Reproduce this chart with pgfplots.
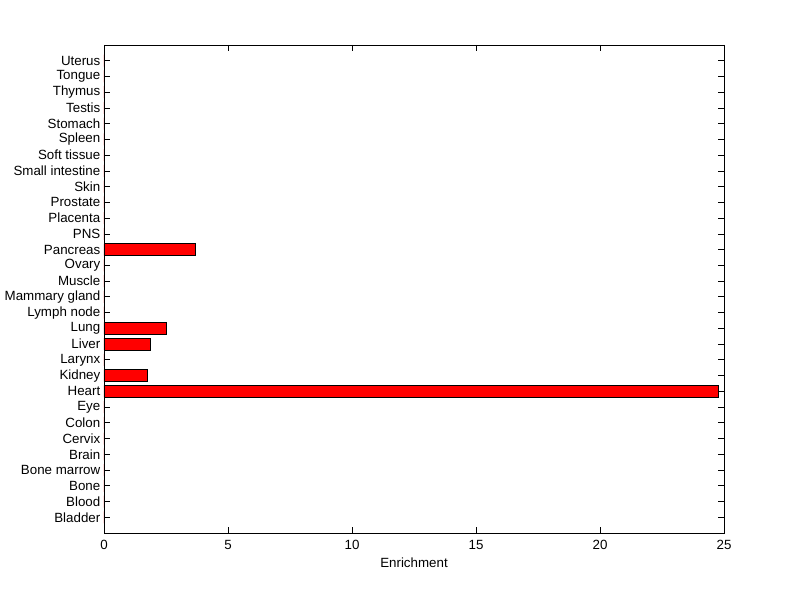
\documentclass[border=0pt]{standalone}
\usepackage{pgfplots}
\pgfplotsset{compat=1.18}
\usepackage{fontspec}
\setmainfont{Liberation Sans}
\begin{document}
\fontsize{10}{12}\selectfont
\begin{tikzpicture}
\begin{axis}[
  scale only axis,
  width=465pt, height=366pt,
  xmin=0, xmax=25, ymin=0, ymax=31,
  xtick={0,5,10,15,20,25},
  ytick={1,...,30},
  yticklabels={Bladder,Blood,Bone,Bone marrow,Brain,Cervix,Colon,Eye,Heart,Kidney,Larynx,Liver,Lung,Lymph node,Mammary gland,Muscle,Ovary,Pancreas,PNS,Placenta,Prostate,Skin,Small intestine,Soft tissue,Spleen,Stomach,Testis,Thymus,Tongue,Uterus},
  xbar, bar width=9pt,
  xtick pos=both, ytick pos=both,
  tick align=inside,
  xtick align=inside, ytick align=inside,
  major tick length=4.5pt,
  tick style={black, line width=0.6pt},
  axis line style={black, line width=0.6pt},
  xticklabel style={font=\fontsize{10}{12}\selectfont, yshift=-2pt},
  yticklabel style={font=\fontsize{10}{12}\selectfont, xshift=0.75pt},
  /pgf/number format/assume math mode=true,
  xlabel={Enrichment},
  xlabel style={font=\fontsize{10}{12}\selectfont, yshift=0.5pt},
]
\addplot[fill=red, draw=black, line width=0.6pt] coordinates {
(0,1) (0,2) (0,3) (0,4) (0,5) (0,6) (0,7) (0,8)
(24.77,9) (1.76,10) (0,11) (1.87,12) (2.53,13) (0,14) (0,15) (0,16) (0,17)
(3.70,18) (0,19) (0,20) (0,21) (0,22) (0,23) (0,24) (0,25) (0,26) (0,27) (0,28) (0,29) (0,30)
};
\end{axis}
\path[use as bounding box] ([shift={(-78pt,-49.5pt)}]current axis.south west) rectangle ([shift={(57pt,33.75pt)}]current axis.north east);
\end{tikzpicture}
\end{document}
